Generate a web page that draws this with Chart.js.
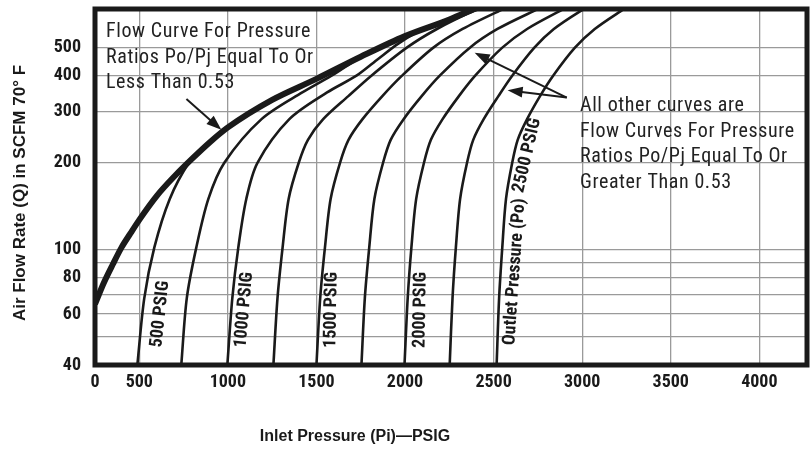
<!DOCTYPE html>
<html>
<head>
<meta charset="utf-8">
<script src="https://cdn.jsdelivr.net/npm/chart.js@4.4.1/dist/chart.umd.min.js"></script>
<style>
  html, body { margin: 0; padding: 0; background: #fff; }
</style>
</head>
<body>
<canvas id="flowChart" width="812" height="450"></canvas>
<script>
// 目盛り (左端は原図どおり "0" と表示 / 軸は途中から始まる)
const inletTicks = [250, 500, 1000, 1500, 2000, 2500, 3000, 3500, 4000];
const inletTickLabels = ['0', '500', '1000', '1500', '2000', '2500', '3000', '3500', '4000'];
const flowGridLines = [40, 50, 60, 70, 80, 90, 100, 200, 300, 400, 500];
const flowTickLabels = ['40', '', '60', '', '80', '', '100', '200', '300', '400', '500'];

// 臨界流量カーブ (Po/Pi <= 0.53)  [Pi, Q]
const chokedCurve = [[250, 65], [300, 77], [350, 89], [400, 102], [450, 114], [500, 127], [600, 154],
    [700, 180], [800, 207], [900, 236], [1000, 265], [1250, 330], [1500, 390], [1750, 465],
    [2000, 548], [2250, 625], [2365, 670], [2450, 700]];

// 出口圧力ごとのカーブ [Pi, Q]
const outletPressures = [500, 750, 1000, 1250, 1500, 1750, 2000, 2250, 2500];
const po500 = [[489, 40], [528, 68], [585, 102], [672, 150], [780, 200], [860, 224]];
const po750 = [[737, 40], [768, 68], [822, 102], [890, 150], [980, 200], [1190, 283], [1420, 350], [1600, 405], [1720, 452], [1820, 490]];
const po1000 = [[997, 40], [1025, 68], [1059, 102], [1104, 150], [1167, 200], [1347, 283], [1560, 350], [1726, 400],
    [1850, 458], [1960, 515], [2060, 562], [2150, 598]];
const po1250 = [[1257, 40], [1280, 68], [1309, 102], [1343, 150], [1400, 200], [1452, 240], [1538, 283], [1680, 340],
    [1810, 400], [2010, 500], [2180, 580], [2385, 669], [2520, 720]];
const po1500 = [[1500, 40], [1521, 68], [1548, 102], [1580, 150], [1633, 200], [1681, 240], [1760, 283], [1872, 340],
    [1983, 400], [2160, 500], [2325, 580], [2530, 669], [2650, 720]];
const po1750 = [[1754, 40], [1773, 68], [1798, 102], [1827, 150], [1876, 200], [1919, 240], [1992, 283], [2094, 340],
    [2196, 400], [2366, 500], [2522, 580], [2726, 669], [2843, 720]];
const po2000 = [[1997, 40], [2015, 68], [2036, 102], [2063, 150], [2107, 200], [2146, 240], [2212, 283], [2304, 340],
    [2396, 400], [2549, 500], [2689, 580], [2873, 669], [2978, 720]];
const po2250 = [[2252, 40], [2268, 68], [2287, 102], [2311, 150], [2350, 200], [2385, 240], [2444, 283], [2527, 340],
    [2605, 400], [2730, 500], [2840, 580], [2990, 669], [3085, 720]];
const po2500 = [[2517, 40], [2531, 68], [2549, 102], [2570, 150], [2605, 200], [2636, 240], [2689, 283], [2762, 340],
    [2836, 400], [2959, 500], [3071, 580], [3218, 669], [3302, 720]];
const outletCurves = [po500, po750, po1000, po1250, po1500, po1750, po2000, po2250, po2500];

// 注記テキスト
const chokedNote = ['Flow Curve For Pressure', 'Ratios Po/Pj Equal To Or', 'Less Than 0.53'];
const otherNote = ['All other curves are', 'Flow Curves For Pressure', 'Ratios Po/Pj Equal To Or', 'Greater Than 0.53'];

// カーブ上のラベル [text, Pi, Q, 角度]
const curveLabels = [
    ['500 PSIG', 619, 60, -84],
    ['1000 PSIG', 1093, 62, -85],
    ['1500 PSIG', 1585, 62, -89],
    ['2000 PSIG', 2088, 62, -89],
    ['Outlet Pressure (Po)', 2620, 84, -86],
    ['2500 PSIG', 2690, 212, -77],
];

const narrow = "'Liberation Sans Narrow', 'Roboto Condensed', 'DejaVu Sans Condensed', sans-serif";
const ink = '#1a1a1a';

const toPoints = arr => arr.map(([x, y]) => ({ x: x, y: y }));

const datasets = [{
    label: 'Po/Pi <= 0.53',
    data: toPoints(chokedCurve),
    borderColor: ink,
    borderWidth: 6,
    pointRadius: 0,
    cubicInterpolationMode: 'monotone',
}];
outletCurves.forEach((curve, i) => {
    datasets.push({
        label: outletPressures[i] + ' PSIG',
        data: toPoints(curve),
        borderColor: ink,
        borderWidth: 2.6,
        pointRadius: 0,
        tension: 0.3,
    });
});

function drawArrow(ctx, x1, y1, x2, y2) {
    const ang = Math.atan2(y2 - y1, x2 - x1);
    ctx.beginPath();
    ctx.moveTo(x1, y1);
    ctx.lineTo(x2 - 10 * Math.cos(ang), y2 - 10 * Math.sin(ang));
    ctx.stroke();
    ctx.beginPath();
    ctx.moveTo(x2, y2);
    ctx.lineTo(x2 - 15 * Math.cos(ang) + 5.5 * Math.sin(ang), y2 - 15 * Math.sin(ang) - 5.5 * Math.cos(ang));
    ctx.lineTo(x2 - 15 * Math.cos(ang) - 5.5 * Math.sin(ang), y2 - 15 * Math.sin(ang) + 5.5 * Math.cos(ang));
    ctx.closePath();
    ctx.fill();
}

// 枠・注記・軸タイトル
const decorations = {
    id: 'decorations',
    afterDraw(chart) {
        const { ctx, chartArea: a, scales } = chart;
        const px = v => scales.x.getPixelForValue(v);
        const py = v => scales.y.getPixelForValue(v);
        ctx.save();

        ctx.lineWidth = 5;
        ctx.strokeStyle = ink;
        ctx.strokeRect(a.left, a.top, a.right - a.left, a.bottom - a.top);

        ctx.fillStyle = '#222';
        ctx.font = '20px ' + narrow;
        ctx.letterSpacing = '0.6px';
        ctx.textBaseline = 'middle';
        ctx.textAlign = 'left';
        chokedNote.forEach((t, i) => ctx.fillText(t, a.left + 11, a.top + 23 + i * 25.5));
        otherNote.forEach((t, i) => ctx.fillText(t, 580, 106 + i * 25.7));
        ctx.letterSpacing = '0px';

        ctx.strokeStyle = ink;
        ctx.fillStyle = ink;
        ctx.lineWidth = 2;
        drawArrow(ctx, px(766), py(332), px(963), py(260));
        drawArrow(ctx, px(2913), py(336), px(2393), py(480));
        drawArrow(ctx, px(2913), py(336), px(2579), py(356));

        ctx.font = 'bold 18px ' + narrow;
        ctx.textAlign = 'center';
        curveLabels.forEach(([t, xv, yv, deg]) => {
            ctx.save();
            ctx.translate(px(xv), py(yv));
            ctx.rotate(deg * Math.PI / 180);
            ctx.fillText(t, 0, 0);
            ctx.restore();
        });

        ctx.font = "bold 16px 'Liberation Sans', Arial, sans-serif";
        ctx.fillText('Inlet Pressure (Pi)\u2014PSIG', 355, 437);
        ctx.font = "bold 17px 'Liberation Sans', Arial, sans-serif";
        ctx.translate(20, 193);
        ctx.rotate(-Math.PI / 2);
        ctx.fillText('Air Flow Rate (Q) in SCFM 70\u00b0 F', 0, 0);
        ctx.restore();
    }
};

new Chart(document.getElementById('flowChart').getContext('2d'), {
    type: 'line',
    data: { datasets: datasets },
    options: {
        responsive: false,
        animation: false,
        layout: { padding: { top: 9, right: 5, left: 0, bottom: 0 } },
        plugins: {
            legend: { display: false },
            tooltip: { enabled: false },
        },
        scales: {
            x: {
                type: 'linear',
                min: 250,
                max: 4269,
                afterBuildTicks: scale => { scale.ticks = inletTicks.map(v => ({ value: v })); },
                afterFit: scale => { scale.height = 85; scale.paddingLeft = 0; scale.paddingRight = 0; },
                grid: { color: '#9a9a9a', lineWidth: 1.3, drawTicks: false },
                border: { display: false },
                ticks: {
                    autoSkip: false,
                    maxRotation: 0,
                    padding: 7,
                    color: ink,
                    font: { family: narrow, size: 18, weight: 'bold' },
                    callback: (value) => inletTickLabels[inletTicks.indexOf(value)],
                },
            },
            y: {
                type: 'logarithmic',
                min: 40,
                max: 680,
                afterBuildTicks: scale => { scale.ticks = flowGridLines.map(v => ({ value: v })); },
                afterFit: scale => { scale.width = 95; scale.paddingTop = 0; scale.paddingBottom = 0; },
                grid: { color: '#9a9a9a', lineWidth: 1.3, drawTicks: false },
                border: { display: false },
                ticks: {
                    autoSkip: false,
                    padding: 14,
                    color: ink,
                    font: { family: narrow, size: 18, weight: 'bold' },
                    callback: (value) => flowTickLabels[flowGridLines.indexOf(value)],
                },
            },
        },
    },
    plugins: [decorations],
});
</script>
</body>
</html>
